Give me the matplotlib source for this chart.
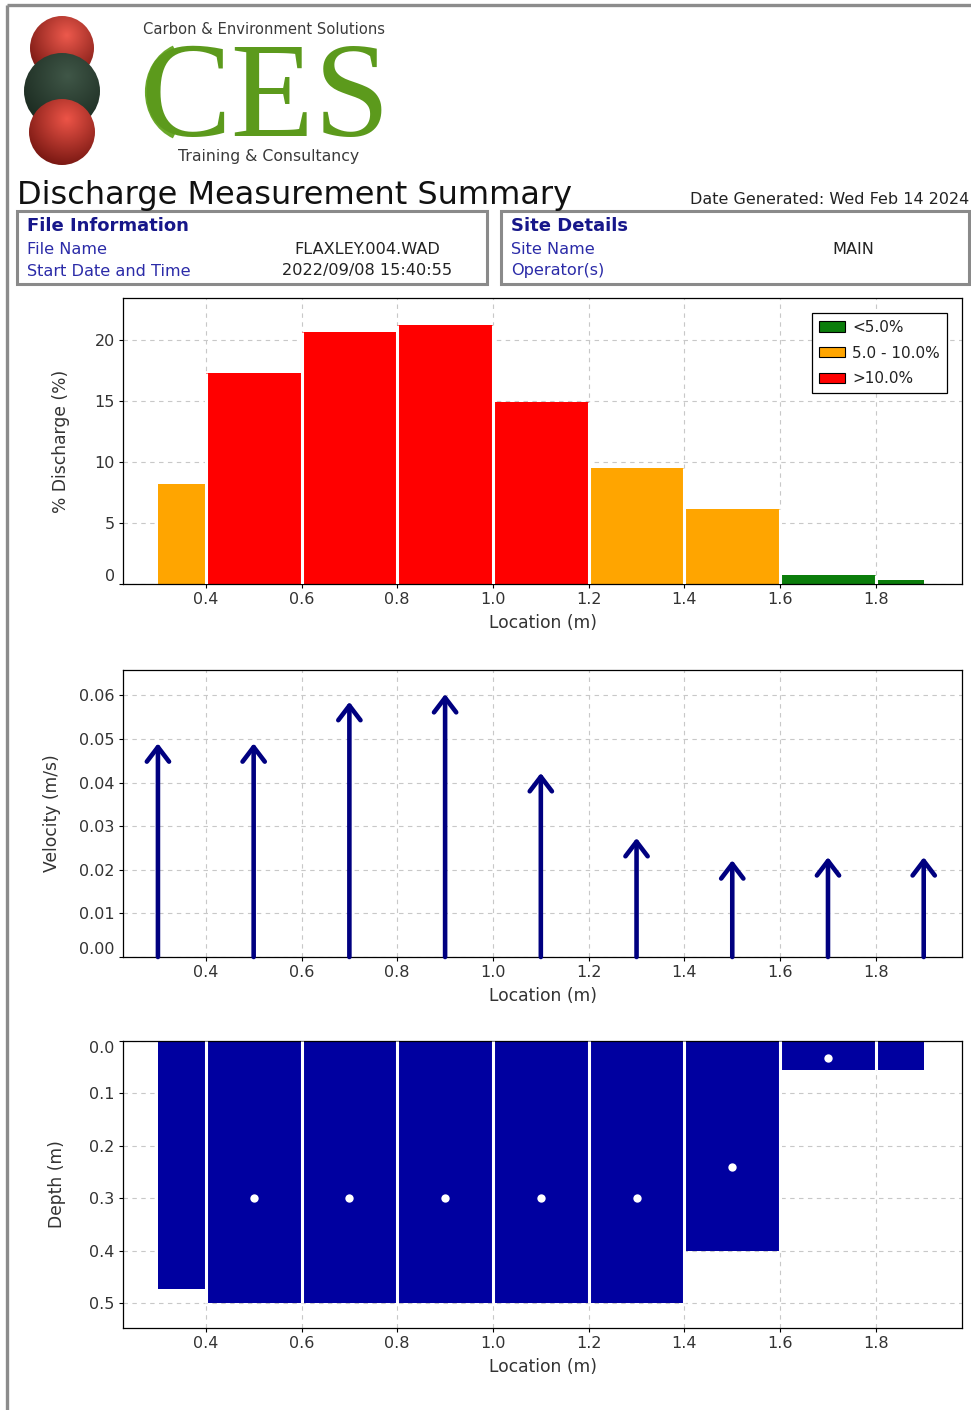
import matplotlib
matplotlib.use("Agg")
import matplotlib.pyplot as plt
import numpy as np
from matplotlib.patches import Circle, Rectangle, Arc, Patch

# ---- data ---------------------------------------------------------------------
stations = [0.3, 0.5, 0.7, 0.9, 1.1, 1.3, 1.5, 1.7, 1.9]
panel_left = [0.3, 0.4, 0.6, 0.8, 1.0, 1.2, 1.4, 1.6, 1.8]
panel_right = [0.4, 0.6, 0.8, 1.0, 1.2, 1.4, 1.6, 1.8, 1.9]
pct_discharge = [8.2, 17.3, 20.6, 21.2, 14.9, 9.5, 6.1, 0.75, 0.3]
velocity = [0.049, 0.049, 0.0585, 0.0603, 0.0422, 0.0273, 0.0222, 0.0229, 0.0229]
depth = [0.473, 0.5, 0.5, 0.5, 0.5, 0.5, 0.4, 0.055, 0.055]
meas_station = [0.5, 0.7, 0.9, 1.1, 1.3, 1.5, 1.7]
meas_depth = [0.3, 0.3, 0.3, 0.3, 0.3, 0.24, 0.033]

legend_labels = ["<5.0%", "5.0 - 10.0%", ">10.0%"]
x_ticks = [0.4, 0.6, 0.8, 1.0, 1.2, 1.4, 1.6, 1.8]

file_info = [("File Name", "FLAXLEY.004.WAD"), ("Start Date and Time", "2022/09/08 15:40:55")]
site_info = [("Site Name", "MAIN"), ("Operator(s)", "")]

GREEN, ORANGE, RED = "#0b7d0b", "#ffa500", "#ff0000"
NAVY, BLUE = "#000080", "#0000a0"
LABEL_BLUE, HEAD_BLUE = "#2b2ba8", "#17178a"
TXT = "#333333"
GRID = dict(color="#c8c8c8", linestyle=(0, (4, 4)), linewidth=0.8)

W, H = 971, 1410
plt.rcParams["font.family"] = ["DejaVu Sans"]
fig = plt.figure(figsize=(W / 100, H / 100), dpi=100)

# ---- page furniture in pixel coordinates ---------------------------------------
bg = fig.add_axes([0, 0, 1, 1], zorder=0)
bg.set_axis_off()


def sphere(cx, cy, r, light, dark, z):
    yy, xx = np.mgrid[-1:1:200j, -1:1:200j]
    t = np.clip(np.sqrt((xx - 0.15) ** 2 + (yy + 0.4) ** 2) / 1.5, 0, 1)[..., None]
    rgb = np.array(light) * (1 - t) + np.array(dark) * t
    im = bg.imshow(rgb, extent=(cx - r, cx + r, cy + r, cy - r), zorder=z, aspect="auto")
    circ = Circle((cx, cy), r, fc="none", ec="none")
    bg.add_patch(circ)
    im.set_clip_path(circ)


sphere(62, 48, 32, (0.93, 0.35, 0.30), (0.45, 0.08, 0.06), 2)
sphere(62, 91, 38, (0.25, 0.34, 0.28), (0.10, 0.16, 0.12), 3)
sphere(62, 132, 33, (0.93, 0.33, 0.28), (0.45, 0.08, 0.06), 4)

bg.text(143, 29, "Carbon & Environment Solutions", fontsize=10.6, color="#3a3a3a", va="center")
bg.text(178, 156, "Training & Consultancy", fontsize=11.3, color="#3a3a3a", va="center")
bg.text(140, 136, "CES", family="Liberation Serif", fontsize=98, color="#5c9a1c",
        va="baseline")
for w in (70, 86):
    bg.add_patch(Arc((190, 92), w, 96, theta1=110, theta2=250, lw=3, color="#6aa82a"))

bg.text(17, 204, "Discharge Measurement Summary", fontsize=23, color="#111111", va="baseline")
bg.text(969, 200, "Date Generated: Wed Feb 14 2024", fontsize=11.5, color="#222222",
        ha="right", va="center")

bg.plot([7, W], [5, 5], color="#8c8c8c", lw=2.4, solid_capstyle="butt")
bg.plot([7, 7], [5, H], color="#8c8c8c", lw=2.4, solid_capstyle="butt")

for x0, x1, title, rows, val_x in [(17, 487, "File Information", file_info, 367),
                                   (501, 969, "Site Details", site_info, 853)]:
    bg.add_patch(Rectangle((x0, 211), x1 - x0, 73, fc="none", ec="#8a8a8a", lw=2.2))
    bg.text(x0 + 10, 226, title, fontsize=13, weight="bold", color=HEAD_BLUE, va="center")
    for i, (name, value) in enumerate(rows):
        y = 249 + 22 * i
        bg.text(x0 + 10, y, name, fontsize=11.6, color=LABEL_BLUE, va="center")
        bg.text(val_x, y, value, fontsize=11.6, color="#222222", ha="center", va="center")

bg.set_xlim(0, W)
bg.set_ylim(H, 0)


# ---- charts ------------------------------------------------------------------
def make_axes(top, bottom):
    ax = fig.add_axes([123 / W, 1 - bottom / H, (962 - 123) / W, (bottom - top) / H], zorder=5)
    ax.set_xlim(0.227, 1.98)
    ax.set_xticks(x_ticks)
    ax.set_xticklabels([f"{t:.1f}" for t in x_ticks])
    ax.grid(True, **GRID)
    ax.set_axisbelow(True)
    ax.tick_params(labelsize=11.5, labelcolor=TXT, length=3, pad=3)
    for s in ax.spines.values():
        s.set_linewidth(0.9)
    ax.set_xlabel("Location (m)", fontsize=12.3, color=TXT, labelpad=5)
    return ax


def ylabel(ax, text, x_px):
    ax.set_ylabel(text, fontsize=12.3, color=TXT, va="center")
    ax.yaxis.set_label_coords((x_px - 123) / (962 - 123), 0.5)


def panel_bars(ax, values, colors):
    # bars without edges, then white separators between neighbouring panels
    ax.bar(panel_left, values, width=widths, align="edge", color=colors, linewidth=0)
    lo, hi = ax.get_ylim()
    tops = [max(a, b) for a, b in zip(values[:-1], values[1:])]
    ax.vlines(panel_left[1:], 0, tops, color="white", lw=2.2, zorder=3)


widths = np.array(panel_right) - np.array(panel_left)
colors = [GREEN if p < 5 else ORANGE if p <= 10 else RED for p in pct_discharge]

# discharge
ax1 = make_axes(298, 584)
panel_bars(ax1, pct_discharge, colors)
ax1.set_ylim(0, 23.4)
ax1.set_yticks([0, 5, 10, 15, 20])
ax1.get_yticklabels()[0].set_va("bottom")
ylabel(ax1, "% Discharge (%)", 61)
handles = [Patch(fc=c, ec="black", lw=0.8) for c in (GREEN, ORANGE, RED)]
leg = ax1.legend(handles, legend_labels, loc="upper right",
                 bbox_to_anchor=((947 - 123) / 839, 1 - 15 / 286), borderaxespad=0,
                 fontsize=11, fancybox=False, framealpha=1, edgecolor="black",
                 handlelength=1.7, handleheight=0.65, labelspacing=0.7, handletextpad=0.5,
                 borderpad=0.45)
leg.get_frame().set_linewidth(0.9)
for t in leg.get_texts():
    t.set_color("#222222")

# velocity
ax2 = make_axes(670, 957)
ax2.set_ylim(0, 0.0658)
ax2.set_yticks(np.arange(0, 0.061, 0.01))
ax2.set_yticklabels([f"{v:.2f}" for v in np.arange(0, 0.061, 0.01)])
ax2.get_yticklabels()[0].set_va("bottom")
for x, v in zip(stations, velocity):
    ax2.annotate("", xy=(x, v), xytext=(x, 0),
                 arrowprops=dict(arrowstyle="->,head_length=1.05,head_width=0.8",
                                 lw=3.3, color=NAVY, shrinkA=0, shrinkB=0,
                                 mutation_scale=10))
ylabel(ax2, "Velocity (m/s)", 52)

# depth
ax3 = make_axes(1041, 1328)
panel_bars(ax3, depth, BLUE)
ax3.plot(meas_station, meas_depth, "o", color="white", markersize=6, markeredgewidth=0,
         zorder=4)
ax3.set_ylim(0.547, 0)
ax3.set_yticks([0, 0.1, 0.2, 0.3, 0.4, 0.5])
ax3.set_yticklabels([f"{d:.1f}" for d in [0, 0.1, 0.2, 0.3, 0.4, 0.5]])
ax3.get_yticklabels()[0].set_va("top")
ylabel(ax3, "Depth (m)", 57)

fig.savefig("out.png", dpi=100)
